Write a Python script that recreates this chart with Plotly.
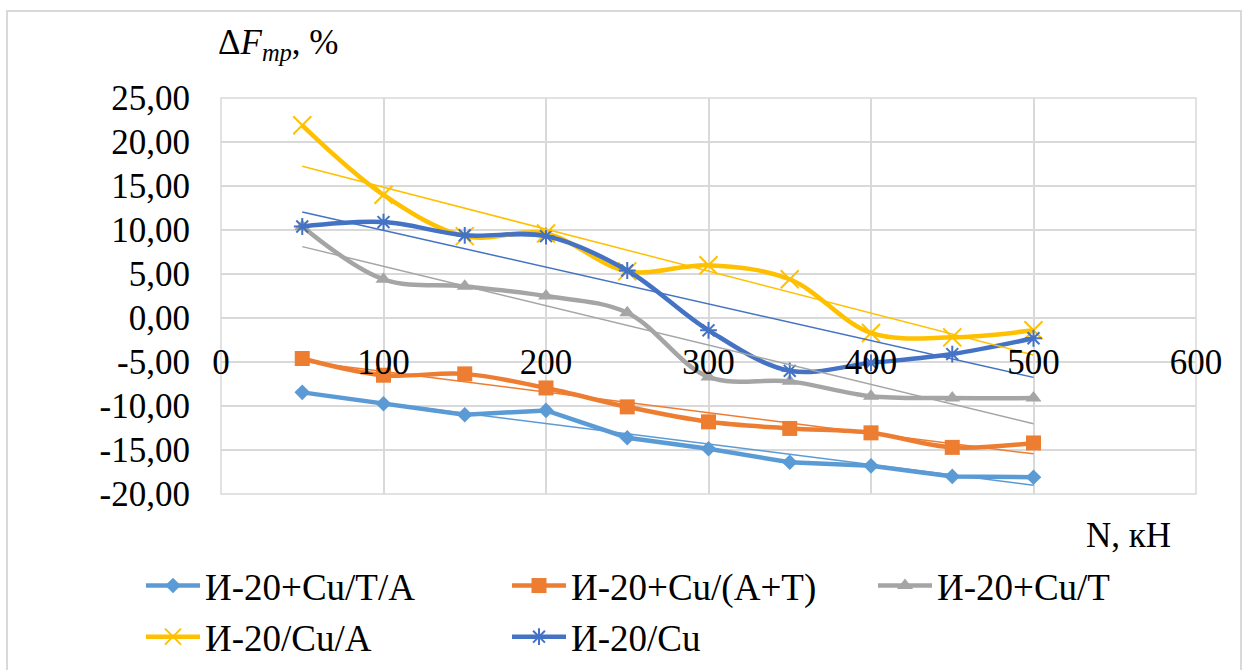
import numpy as np
import plotly.graph_objects as go

# ---------------- data ----------------
N = [50, 100, 150, 200, 250, 300, 350, 400, 450, 500]
names = ["И-20+Cu/T/A", "И-20+Cu/(A+T)", "И-20+Cu/T", "И-20/Cu/A", "И-20/Cu"]
s_cu_t_a = [-8.45, -9.75, -11.0, -10.5, -13.6, -14.85, -16.4, -16.8, -18.0, -18.1]
s_cu_at = [-4.6, -6.5, -6.35, -7.95, -10.1, -11.8, -12.55, -13.05, -14.7, -14.2]
s_cu_t = [10.4, 4.4, 3.6, 2.5, 0.6, -6.7, -7.2, -8.9, -9.1, -9.1]
s_cu_a = [21.9, 14.0, 9.3, 9.6, 5.3, 6.0, 4.4, -1.7, -2.2, -1.4]
s_cu = [10.4, 10.9, 9.4, 9.3, 5.4, -1.4, -6.0, -5.1, -4.1, -2.3]

x_ticks = [0, 100, 200, 300, 400, 500, 600]
x_ticktext = ["0", "100", "200", "300", "400", "500", "600"]
y_ticks = [-20, -15, -10, -5, 0, 5, 10, 15, 20, 25]
y_ticktext = ["-20,00", "-15,00", "-10,00", "-5,00", "0,00", "5,00", "10,00", "15,00", "20,00", "25,00"]

# ---------------- styles ----------------
series = [s_cu_t_a, s_cu_at, s_cu_t, s_cu_a, s_cu]
colors = ["#5B9BD5", "#ED7D31", "#A5A5A5", "#FFC000", "#4472C4"]
symbols = ["diamond", "square", "triangle-up", "x-thin-open", "asterisk-open"]
msizes = [12, 15, 14, 18, 14]
shapes_ = ["linear", "spline", "spline", "spline", "spline"]

FONT = "Liberation Serif"
W, H = 1248, 670
L, R, T, B = 221, 52, 98, 176
PW, PH = W - L - R, H - T - B


def px_x(p):
    return (p - L) / PW


def px_y(p):
    return (H - B - p) / PH


fig = go.Figure()

for i, (ys, c) in enumerate(zip(series, colors)):
    open_sym = symbols[i].endswith("open")
    fig.add_trace(go.Scatter(
        x=N, y=ys, name=names[i], mode="lines+markers",
        line=dict(color=c, width=4.5, shape=shapes_[i], smoothing=1.0),
        marker=dict(symbol=symbols[i], size=msizes[i], color=c,
                    line=dict(color=c, width=2 if open_sym else 0)),
    ))

# linear trend lines (least squares, like Excel)
for i, (ys, c) in enumerate(zip(series, colors)):
    k, b = np.polyfit(N, ys, 1)
    xs = [N[0], N[-1]]
    fig.add_trace(go.Scatter(
        x=xs, y=[k * v + b for v in xs], mode="lines",
        line=dict(color=c, width=1.5), showlegend=False, hoverinfo="skip",
    ))

grid = "#D9D9D9"
fig.update_layout(
    width=W, height=H,
    margin=dict(l=L, r=R, t=T, b=B, pad=0, autoexpand=False),
    paper_bgcolor="white", plot_bgcolor="white",
    font=dict(family=FONT, size=35, color="black"),
    showlegend=True,
    legend=dict(
        orientation="h", x=px_x(141), y=px_y(555), xanchor="left", yanchor="top",
        entrywidth=297, entrywidthmode="pixels", itemwidth=54,
        font=dict(family=FONT, size=37, color="black"),
        bgcolor="rgba(0,0,0,0)", tracegroupgap=0,
    ),
    xaxis=dict(
        range=[0, 600], tickvals=x_ticks, ticktext=x_ticktext,
        showgrid=True, gridcolor=grid, gridwidth=1.5, zeroline=False,
        showline=False, ticks="", anchor="free", position=20 / 45,
        ticklabelstandoff=20, tickfont=dict(family=FONT, size=35),
    ),
    yaxis=dict(
        range=[-20, 25], tickvals=y_ticks, ticktext=y_ticktext,
        showgrid=True, gridcolor=grid, gridwidth=1.5, zeroline=False,
        showline=False, ticks="", ticklabelstandoff=30,
        tickfont=dict(family=FONT, size=35),
    ),
    shapes=[
        dict(type="rect", xref="paper", yref="paper", x0=0, x1=1, y0=0, y1=1,
             line=dict(color=grid, width=1.5), layer="below"),
        dict(type="rect", xref="paper", yref="paper",
             x0=px_x(7), x1=px_x(1241), y0=px_y(675), y1=px_y(11),
             line=dict(color=grid, width=2), layer="below"),
    ],
    annotations=[
        dict(text="Δ<i>F</i><sub><i>mp</i></sub>, %", xref="paper", yref="paper",
             x=px_x(216), y=px_y(45), xanchor="left", yanchor="middle",
             showarrow=False, font=dict(family=FONT, size=35)),
        dict(text="N, кН", xref="paper", yref="paper",
             x=px_x(1128), y=px_y(535), xanchor="center", yanchor="middle",
             showarrow=False, font=dict(family=FONT, size=35)),
    ],
)

fig.write_html("out.html")
